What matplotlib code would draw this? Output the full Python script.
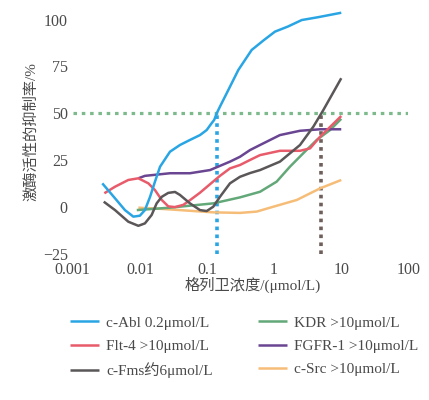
import matplotlib
matplotlib.use("Agg")
import matplotlib.pyplot as plt

# ---------------- data ----------------
abl_x = [0.00276, 0.00427, 0.006, 0.008, 0.010, 0.0119, 0.0142, 0.0168, 0.020, 0.0281, 0.0396,
         0.0558, 0.0787, 0.099, 0.117, 0.128, 0.140, 0.156, 0.208, 0.293, 0.463, 0.70, 1.03,
         1.6, 2.58, 4.5, 10]
abl_y = [12.5, 4.5, -1.8, -5.3, -4.8, -1.8, 5.3, 13.4, 21.4, 29.4, 33,
         35.7, 38.3, 41, 44.6, 46.4, 50, 53.5, 62.4, 73.1, 83.8, 89, 93.6,
         96.3, 99.8, 101.3, 103.7]

flt_x = [0.00296, 0.00427, 0.00673, 0.0095, 0.0134, 0.0168, 0.0212, 0.0265, 0.0334, 0.0444,
         0.0558, 0.0787, 0.124, 0.156, 0.22, 0.31, 0.438, 0.617, 1.22, 2.43, 3.43, 4.83, 10]
flt_y = [7.2, 10.7, 14.3, 15.2, 12.5, 8.9, 3.6, 0.2, -0.2, 1.0,
         3.5, 7.5, 13.5, 16.5, 20.5, 22.3, 25, 27.6, 29.9, 29.9, 31.2, 37.4, 48.5]

fms_x = [0.0029, 0.00427, 0.00673, 0.0095, 0.0119, 0.015, 0.0178, 0.0212, 0.0265, 0.0334,
         0.0396, 0.0558, 0.0787, 0.099, 0.124, 0.156, 0.22, 0.31, 0.438, 0.617, 1.22,
         2.43, 3.84, 5.41, 10]
fms_y = [2.7, -1.8, -8.0, -10.2, -8.9, -4.4, 1.8, 5.3, 7.4, 7.9,
         6.3, 1.8, -1.8, -2.3, 0, 5.3, 12.5, 16, 18, 19.6, 24.1,
         33, 42.8, 51.7, 68.7]

kdr_x = [0.009, 0.0281, 0.124, 0.31, 0.617, 1.09, 1.72, 2.72, 4.31, 6.81, 10]
kdr_y = [-1.8, -0.5, 1.8, 5.0, 8.0, 13.4, 21.4, 28.6, 35.7, 41, 47]

fgfr_x = [0.0095, 0.0119, 0.0281, 0.0558, 0.111, 0.22, 0.31, 0.438, 0.617, 1.22, 2.43, 4.83, 10]
fgfr_y = [15.2, 16.5, 17.9, 17.9, 19.6, 24.1, 26.7, 30.3, 33, 38.3, 40.6, 41.4, 41.4]

src_x = [0.0095, 0.0223, 0.124, 0.31, 0.55, 0.973, 2.17, 4.83, 10]
src_y = [-0.5, -1.2, -3.0, -3.3, -2.6, 0, 3.6, 9.8, 14.3]

labels = ["c-Abl 0.2μmol/L", "Flt-4 >10μmol/L", "c-Fms约6μmol/L",
          "KDR >10μmol/L", "FGFR-1 >10μmol/L", "c-Src >10μmol/L"]
colors = ["#2aa5e4", "#e85b6a", "#5b5657", "#63a878", "#6a4592", "#f6bd78"]

x_ticks = [0.001, 0.01, 0.1, 1, 10, 100]
x_ticklabels = ["0.001", "0.01", "0.1", "1", "10", "100"]
y_ticks = [-25, 0, 25, 50, 75, 100]
ic50_level = 50
abl_ic50 = 0.14
fms_ic50 = 5.0

# ---------------- figure ----------------
fams = ["Liberation Serif", "Noto Sans CJK SC", "DejaVu Sans"]
plt.rcParams["font.family"] = fams
plt.rcParams["axes.unicode_minus"] = True

fig = plt.figure(figsize=(4.29, 4.00), dpi=100)
ax = fig.add_axes([72.7 / 429, 1 - 253.5 / 400, (408.4 - 72.7) / 429, (253.5 - 10.3) / 400])

ax.set_xscale("log")
ax.set_xlim(0.001, 100)
ax.set_ylim(-25, 105)

series = [(abl_x, abl_y), (flt_x, flt_y), (fms_x, fms_y),
          (kdr_x, kdr_y), (fgfr_x, fgfr_y), (src_x, src_y)]
draw_order = [5, 3, 4, 1, 2, 0]
lines = {}
for i in draw_order:
    xs, ys = series[i]
    ln, = ax.plot(xs, ys, color=colors[i], lw=1.8, solid_capstyle="butt",
                  solid_joinstyle="round", label=labels[i], zorder=3)
    lines[i] = ln

# reference dotted lines
ax.axhline(ic50_level, color="#7cb98b", lw=2.3, linestyle=(0, (1.1, 1.5)), zorder=2)
ax.plot([abl_ic50, abl_ic50], [-25, ic50_level], color="#2aa5e4", lw=2.6,
        linestyle=(0, (1.0, 1.2)), zorder=2)
ax.plot([fms_ic50, fms_ic50], [-25, ic50_level], color="#6e5f5b", lw=2.6,
        linestyle=(0, (1.0, 1.2)), zorder=2)

for s in ax.spines.values():
    s.set_visible(False)
ax.tick_params(length=0, labelsize=11.5, labelcolor="#4a4a4a")
ax.tick_params(axis="x", pad=6)
ax.tick_params(axis="y", pad=3.5)
ax.set_xticks(x_ticks)
ax.set_xticklabels(x_ticklabels)
ax.minorticks_off()
ax.set_yticks(y_ticks)

ax.set_xlabel("格列卫浓度/(μmol/L)", fontsize=11, color="#4a4a4a", labelpad=1)
ax.xaxis.set_label_coords(0.536, -0.095)
ax.set_ylabel("激酶活性的抑制率/%", fontsize=11, color="#4a4a4a", labelpad=3)

leg_handles = [lines[i] for i in range(6)]
fig.legend(leg_handles, labels, ncol=2, loc="upper left",
           bbox_to_anchor=(70 / 429, 1 - 316 / 400), frameon=False,
           fontsize=11, handlelength=1.9, handletextpad=0.45,
           columnspacing=3.0, labelspacing=0.62, borderpad=0, borderaxespad=0,
           labelcolor="#4a4a4a")

fig.savefig("out.png", dpi=100, facecolor="white")
